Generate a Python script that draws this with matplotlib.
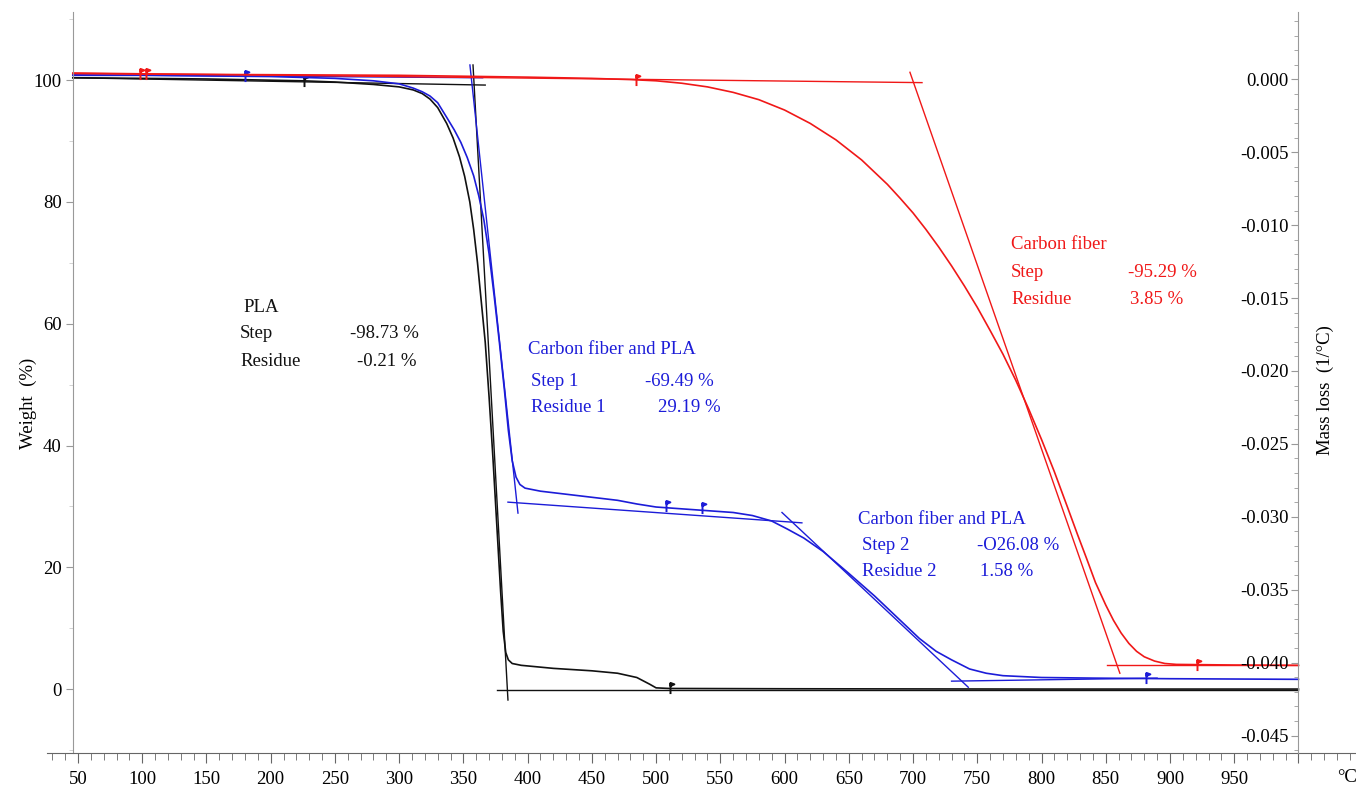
import numpy as np
import matplotlib.pyplot as plt
from matplotlib.path import Path
from matplotlib.ticker import MultipleLocator, FixedLocator

plt.rcParams['font.family'] = ['Liberation Serif', 'DejaVu Serif']
plt.rcParams['axes.unicode_minus'] = False
plt.rcParams['font.size'] = 13.5

RED = '#f01818'
BLUE = '#1c1cd8'
BLACK = '#111111'

# weight curves, temperature in degC, weight in %
pla_t = [46, 100, 150, 200, 225, 250, 280, 300, 311, 318, 324, 330, 337, 342, 347,
         351, 355, 358, 361, 364, 367, 370, 373, 376, 379, 381, 383, 385, 388, 395,
         420, 450, 470, 485, 495, 500, 510, 600, 800, 1000]
pla_w = [100.4, 100.3, 100.2, 100.0, 99.9, 99.7, 99.3, 98.9, 98.4, 97.8, 96.9, 95.5,
         92.9, 90.5, 87.4, 84.2, 80.0, 75.5, 70.0, 63.5, 57.0, 48.0, 38.0, 27.0, 16.0,
         9.5, 6.0, 4.8, 4.2, 3.9, 3.4, 3.0, 2.6, 1.9, 0.8, 0.2, 0.1, 0.05, 0.0, 0.0]

cfpla_t = [46, 100, 150, 200, 250, 280, 300, 311, 318, 324, 330, 337, 343, 348, 353,
           358, 362, 366, 370, 374, 378, 382, 385, 388, 391, 394, 398, 410,
           430, 450, 470, 485, 500, 520, 540, 560, 575, 590, 602, 615, 630, 650, 670,
           690, 705, 718, 730, 744, 757, 770, 800, 840, 900, 1000]
cfpla_w = [100.8, 100.8, 100.7, 100.6, 100.3, 99.9, 99.4, 98.7, 98.1, 97.4, 96.3,
           93.9, 91.8, 89.8, 87.3, 84.3, 81.0, 77.0, 71.5, 64.5, 57.0, 49.0, 42.5,
           37.5, 34.8, 33.6, 33.0, 32.5, 32.0, 31.5, 31.0, 30.4, 29.9, 29.6,
           29.3, 29.0, 28.5, 27.6, 26.3, 24.8, 22.6, 19.0, 15.3, 11.3, 8.3, 6.2, 4.8,
           3.3, 2.6, 2.2, 1.9, 1.8, 1.7, 1.6]

cf_t = [46, 100, 200, 300, 400, 450, 480, 500, 520, 540, 560, 580, 600, 620, 640,
        660, 680, 690, 700, 710, 720, 730, 740, 750, 760, 770, 780, 790, 800, 810,
        820, 828, 835, 842, 850, 856, 862, 868, 874, 880, 888, 896, 905, 950, 1000]
cf_w = [101.1, 101.0, 100.9, 100.8, 100.5, 100.3, 100.1, 99.9, 99.5, 98.9, 98.0,
        96.8, 95.1, 92.9, 90.2, 86.9, 82.9, 80.6, 78.2, 75.5, 72.6, 69.5, 66.2, 62.7,
        58.9, 55.0, 50.7, 46.0, 41.0, 35.7, 30.0, 25.4, 21.5, 17.5, 13.8, 11.3, 9.2,
        7.5, 6.2, 5.3, 4.6, 4.2, 4.05, 3.95, 3.9]

# evaluation tangents (start, end) as (T, W)
pla_lines = [((46, 100.4), (367, 99.2)),
             ((357.5, 102.5), (384.7, -1.8)),
             ((376, -0.2), (1000, -0.2))]
cfpla_lines = [((46, 100.9), (365, 100.4)),
               ((355.1, 102.5), (392.5, 28.9)),
               ((384.7, 30.7), (613.5, 27.3)),
               ((598, 29.0), (743, 0.3)),
               ((730, 1.3), (890, 1.8))]
cf_lines = [((46, 101.2), (707, 99.6)),
            ((697.6, 101.3), (861, 2.6)),
            ((851, 4.0), (1000, 4.0))]

# evaluation limit flags
pla_flags = [(226, 99.9), (511, 0.2)]
cfpla_flags = [(180, 100.7), (508, 30.1), (536, 29.7), (881, 1.75)]
cf_flags = [(98, 101.0), (103, 101.0), (484, 100.1), (921, 4.0)]

x_major = list(range(50, 1001, 50))
x_labels = [str(v) for v in range(50, 951, 50)] + ['']

flag = Path([(0, -1), (0, 1), (0, 1), (0.7, 0.75), (0, 0.45), (0, 1)],
            [Path.MOVETO, Path.LINETO, Path.MOVETO, Path.LINETO, Path.LINETO, Path.CLOSEPOLY])

fig = plt.figure(figsize=(13.56, 7.87), dpi=100)
ax = fig.add_axes([47 / 1356, 34 / 787, 1309 / 1356, 741 / 787])
ax.set_xlim(25.9, 1044.8)
ax.set_ylim(-10.5, 111.2)

for t, w, lines, flags, c in [(pla_t, pla_w, pla_lines, pla_flags, BLACK),
                              (cfpla_t, cfpla_w, cfpla_lines, cfpla_flags, BLUE),
                              (cf_t, cf_w, cf_lines, cf_flags, RED)]:
    ax.plot(t, w, color=c, lw=1.2)
    for (t0, w0), (t1, w1) in lines:
        ax.plot([t0, t1], [w0, w1], color=c, lw=1.0)
    for ft, fw in flags:
        ax.plot(ft, fw, marker=flag, ms=8, color=c, mew=1.4, ls='none')

for s in ['top', 'right']:
    ax.spines[s].set_visible(False)
ax.spines['left'].set_position(('data', 46))
ax.spines['left'].set_color('#999999')
ax.spines['bottom'].set_color('#666666')

ax.yaxis.set_major_locator(FixedLocator([0, 20, 40, 60, 80, 100]))
ax.yaxis.set_minor_locator(FixedLocator([-10, 10, 30, 50, 70, 90, 110]))
ax.xaxis.set_major_locator(FixedLocator(x_major))
ax.set_xticklabels(x_labels)
ax.xaxis.set_minor_locator(MultipleLocator(10))
ax.tick_params(axis='y', which='major', direction='out', length=5, color='#999999', pad=3)
ax.tick_params(axis='y', which='minor', direction='out', length=3, color='#cccccc')
ax.tick_params(axis='x', which='major', direction='out', length=7, color='#666666', pad=6)
ax.tick_params(axis='x', which='minor', direction='out', length=5, color='#666666')

# mass loss scale sits on the spine at 1000 degC
ax2 = ax.twinx()
ax2.set_ylim(-0.0462, 0.00462)
for s in ['top', 'right', 'bottom']:
    ax2.spines[s].set_visible(False)
ax2.spines['left'].set_visible(True)
ax2.spines['left'].set_position(('data', 1000))
ax2.spines['left'].set_color('#999999')
ax2.yaxis.set_ticks_position('left')
ax2.yaxis.set_major_locator(MultipleLocator(0.005))
ax2.yaxis.set_minor_locator(MultipleLocator(0.001))
ax2.yaxis.set_major_formatter(plt.FuncFormatter(lambda v, p: f'{v:.3f}'.replace('-0.000', '0.000')))
ax2.tick_params(axis='y', which='major', direction='out', length=5, color='#999999', pad=2)
ax2.tick_params(axis='y', which='minor', direction='out', length=3, color='#999999')

fig.text(28 / 1356, 1 - 403 / 787, 'Weight  (%)', rotation=90, ha='center', va='center')
fig.text(1325 / 1356, 1 - 390 / 787, 'Mass loss  (1/\u00b0C)', rotation=90, ha='center', va='center')
fig.text(1347 / 1356, 1 - 777 / 787, '\u00b0C', ha='center', va='center')


def note(x, y, s, c):
    fig.text(x / 1356, 1 - y / 787, s, color=c, ha='left', va='center')


note(243, 307, 'PLA', BLACK)
note(240, 333, 'Step', BLACK)
note(350, 333, '-98.73 %', BLACK)
note(240, 361, 'Residue', BLACK)
note(357, 361, '-0.21 %', BLACK)

note(528, 350, 'Carbon fiber and PLA', BLUE)
note(531, 382, 'Step 1', BLUE)
note(645, 382, '-69.49 %', BLUE)
note(531, 408, 'Residue 1', BLUE)
note(658, 408, '29.19 %', BLUE)

note(858, 519, 'Carbon fiber and PLA', BLUE)
note(862, 546, 'Step 2', BLUE)
note(977, 546, '-O26.08 %', BLUE)
note(862, 572, 'Residue 2', BLUE)
note(980, 572, '1.58 %', BLUE)

note(1011, 245, 'Carbon fiber', RED)
note(1011, 272, 'Step', RED)
note(1128, 272, '-95.29 %', RED)
note(1011, 299, 'Residue', RED)
note(1130, 299, '3.85 %', RED)

fig.savefig('out.png', dpi=100)
